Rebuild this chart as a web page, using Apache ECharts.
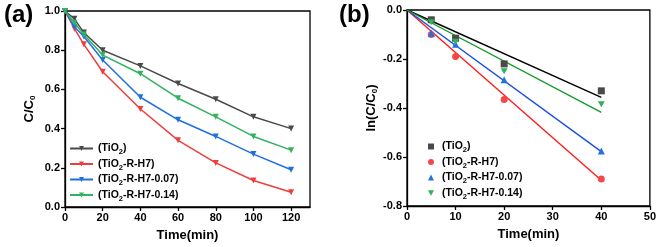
<!DOCTYPE html>
<html><head><meta charset="utf-8">
<script src="https://cdn.jsdelivr.net/npm/echarts@6/dist/echarts.min.js"></script>
<style>html,body{margin:0;padding:0;background:#fff}#c{width:659px;height:247px}</style>
</head><body><div id="c"></div>
<script>
// ---- Panel (a) data ----
var timeA = [0, 5, 10, 20, 40, 60, 80, 100, 120];
var aTiO2 = [1.0, 0.96, 0.89, 0.80, 0.72, 0.63, 0.55, 0.46, 0.40];
var aRH7 = [1.0, 0.91, 0.83, 0.69, 0.50, 0.34, 0.225, 0.135, 0.075];
var aRH7_007 = [1.0, 0.92, 0.87, 0.75, 0.56, 0.445, 0.36, 0.27, 0.19];
var aRH7_014 = [1.0, 0.94, 0.88, 0.775, 0.68, 0.555, 0.46, 0.36, 0.29];
var xTicksA = [0, 20, 40, 60, 80, 100, 120];
var yTicksA = [0.0, 0.2, 0.4, 0.6, 0.8, 1.0];
// ---- Panel (b) data ----
var timeB = [5, 10, 20, 40];
var bTiO2 = [-0.04, -0.115, -0.22, -0.33];
var bRH7 = [-0.10, -0.19, -0.365, -0.69];
var bRH7_007 = [-0.095, -0.14, -0.285, -0.575];
var bRH7_014 = [-0.05, -0.13, -0.25, -0.385];
var fitX = [0, 40];
var fitTiO2 = [0, -0.357];
var fitRH7 = [0, -0.695];
var fitRH7_007 = [0, -0.578];
var fitRH7_014 = [0, -0.418];
var xTicksB = [0, 10, 20, 30, 40, 50];
var yTicksB = [-0.8, -0.6, -0.4, -0.2, 0.0];
var names = ['(TiO{s|2})', '(TiO{s|2}-R-H7)', '(TiO{s|2}-R-H7-0.07)', '(TiO{s|2}-R-H7-0.14)'];
var keys = ['TiO2', 'TiO2-R-H7', 'TiO2-R-H7-0.07', 'TiO2-R-H7-0.14'];

function zip(x, y) { return x.map(function (v, i) { return [v, y[i]]; }); }

var FONT = 'Liberation Sans, Arial, sans-serif';
var colA = ['#4a4a4a', '#f03c3c', '#1f6fe3', '#2fb35e'];
var colLine = ['#000000', '#ff1a1a', '#1a4fe0', '#149a2a'];
var colMk = ['#4a4a4a', '#f44848', '#2272e6', '#2db35a'];
var DOWN_TRI = 'path://M0,0 L10,0 L5,9 Z';

var rich = { s: { fontSize: 7.5, fontWeight: 'bold', fontFamily: FONT, color: '#000', padding: [7, 0, 0, 0] } };
var legendFmt = function (n) { return names[keys.indexOf(n)]; };

function axisCommon(extra) {
  var o = {
    axisLine: { show: true, onZero: false, lineStyle: { color: '#000', width: 1.3 } },
    axisTick: { show: true, inside: false, length: 4, lineStyle: { color: '#000', width: 1.3 } },
    axisLabel: { color: '#000', fontSize: 11, fontWeight: 'bold', fontFamily: FONT, margin: 5 },
    splitLine: { show: false },
    nameTextStyle: { color: '#000', fontSize: 13, fontWeight: 'bold', fontFamily: FONT },
    nameLocation: 'middle'
  };
  for (var k in extra) {
    if (typeof extra[k] === 'object' && o[k] && !Array.isArray(extra[k])) { o[k] = Object.assign({}, o[k], extra[k]); }
    else o[k] = extra[k];
  }
  return o;
}

var series = [];
var seriesA = [aTiO2, aRH7, aRH7_007, aRH7_014];
seriesA.forEach(function (d, i) {
  series.push({
    type: 'line', name: keys[i], xAxisIndex: 0, yAxisIndex: 0,
    data: zip(timeA, d), symbol: 'triangle', symbolRotate: 180, symbolSize: 6,
    lineStyle: { color: colA[i], width: 1.5 }, itemStyle: { color: colA[i] },
    z: 3 + i
  });
});
var seriesBSym = ['rect', 'circle', 'triangle', DOWN_TRI];
var fits = [fitTiO2, fitRH7, fitRH7_007, fitRH7_014];
fits.forEach(function (d, i) {
  series.push({
    type: 'line', name: 'fit' + i, xAxisIndex: 1, yAxisIndex: 1,
    data: zip(fitX, d), symbol: 'none', lineStyle: { color: colLine[i], width: 1.4 }, z: 2
  });
});
[bTiO2, bRH7, bRH7_007, bRH7_014].forEach(function (d, i) {
  series.push({
    type: 'scatter', name: 'b_' + keys[i], xAxisIndex: 1, yAxisIndex: 1,
    data: zip(timeB, d), symbol: seriesBSym[i], symbolSize: i === 3 ? [7, 6] : 7,
    itemStyle: { color: colMk[i], opacity: 1 }, z: 5
  });
});

var chart = echarts.init(document.getElementById('c'), null, { renderer: 'canvas' });
chart.setOption({
  animation: false,
  backgroundColor: '#fff',
  textStyle: { fontFamily: FONT },
  title: [
    { text: '(a)', left: -1, top: -2, textStyle: { fontSize: 24, fontWeight: 'bold', color: '#000', fontFamily: FONT } },
    { text: '(b)', left: 334, top: -2, textStyle: { fontSize: 24, fontWeight: 'bold', color: '#000', fontFamily: FONT } }
  ],
  grid: [
    { left: 65, top: 11, width: 245, height: 196, show: true, borderColor: '#000', borderWidth: 1.3, backgroundColor: 'transparent' },
    { left: 407, top: 10, width: 244, height: 196, show: true, borderColor: '#000', borderWidth: 1.3, backgroundColor: 'transparent' }
  ],
  xAxis: [
    axisCommon({ gridIndex: 0, type: 'value', min: 0, max: 130, name: 'Time(min)', nameGap: 22,
      axisTick: { customValues: xTicksA }, axisLabel: { customValues: xTicksA } }),
    axisCommon({ gridIndex: 1, type: 'value', min: 0, max: 50, interval: 10, name: 'Time(min)', nameGap: 22,
      axisTick: { customValues: xTicksB }, axisLabel: { customValues: xTicksB } })
  ],
  yAxis: [
    axisCommon({ gridIndex: 0, type: 'value', min: 0, max: 1, interval: 0.2, name: 'C/C{s|0}', nameGap: 28,
      nameTextStyle: { rich: { s: { fontSize: 8, fontWeight: 'bold', fontFamily: FONT, color: '#000', padding: [8, 0, 0, 0] } } },
      axisTick: { customValues: yTicksA },
      axisLabel: { customValues: yTicksA, formatter: function (v) { return v.toFixed(1); } } }),
    axisCommon({ gridIndex: 1, type: 'value', min: -0.8, max: 0, interval: 0.2, name: 'ln(C/C{s|0})', nameGap: 28,
      nameTextStyle: { rich: { s: { fontSize: 8, fontWeight: 'bold', fontFamily: FONT, color: '#000', padding: [8, 0, 0, 0] } } },
      axisTick: { customValues: yTicksB },
      axisLabel: { customValues: yTicksB, formatter: function (v) { return v.toFixed(1); } } })
  ],
  legend: [
    { data: keys, left: 64, top: 138, orient: 'vertical', itemGap: 2.5, itemWidth: 23, itemHeight: 6,
      formatter: legendFmt, symbolRotate: 180,
      textStyle: { color: '#000', fontSize: 10.5, fontWeight: 'bold', fontFamily: FONT, rich: rich, padding: [0, 0, 0, 0] } },
    { data: keys.map(function (k) { return 'b_' + k; }),
      left: 423, top: 136, orient: 'vertical', itemGap: 2.5, itemWidth: 6, itemHeight: 6,
      formatter: function (n) { return names[keys.indexOf(n.slice(2))]; },
      textStyle: { color: '#000', fontSize: 10.5, fontWeight: 'bold', fontFamily: FONT, rich: rich, padding: [0, 0, 0, 3] } }
  ],
  series: series
});
</script></body></html>
